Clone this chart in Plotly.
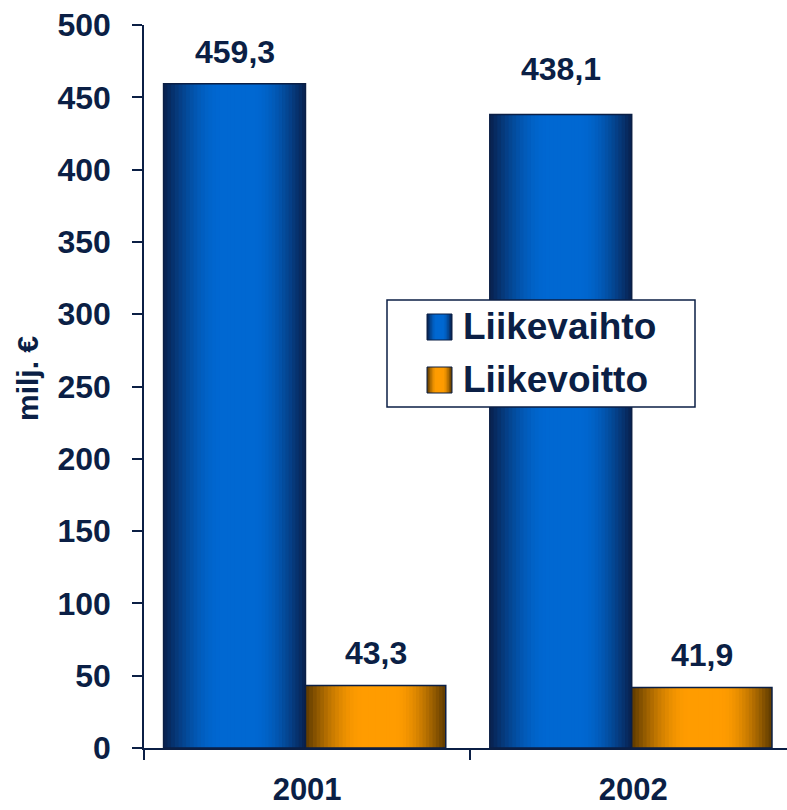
import math
import plotly.graph_objects as go

# ---------------- data ----------------
categories = ["2001", "2002"]
liikevaihto = [459.3, 438.1]
liikevoitto = [43.3, 41.9]
series_names = ["Liikevaihto", "Liikevoitto"]
y_ticks = [0, 50, 100, 150, 200, 250, 300, 350, 400, 450, 500]

# ---------------- style ----------------
NAVY = "#0b1f45"
FONT = "Liberation Sans, Arial, sans-serif"
W, H = 787, 810
ML, MR, MT, MB = 144, 0, 25, 62
PW, PH = W - ML - MR, H - MT - MB

series_style = [
    dict(name=series_names[0], values=liikevaihto, offset=-0.44, width=0.435,
         edge=(8, 36, 84), center=(0, 104, 210)),
    dict(name=series_names[1], values=liikevoitto, offset=-0.005, width=0.43,
         edge=(100, 62, 0), center=(255, 156, 0)),
]
label_nudge = {("Liikevaihto", "2002"): 14}
N_LAYERS = 20


def mix(c1, c2, t):
    return "rgb(%d,%d,%d)" % tuple(round(a + (b - a) * t) for a, b in zip(c1, c2))


def shade(i, n):
    u = i / (n - 1)
    return math.sin(min(1.0, u / 0.8) * math.pi / 2)


def px2x(px):
    return (px - ML) / PW


def py2y(py):
    return (MT + PH - py) / PH


fig = go.Figure()

for s in series_style:
    for i in range(N_LAYERS):
        frac = 1 - i / N_LAYERS
        w = s["width"] * frac
        off = s["offset"] + (s["width"] - w) / 2 + 0.012 * (i / N_LAYERS)
        fig.add_bar(
            x=categories, y=s["values"],
            width=[w] * len(categories), offset=[off] * len(categories),
            marker=dict(color=mix(s["edge"], s["center"], shade(i, N_LAYERS)), line=dict(width=0)),
            showlegend=False, hoverinfo="skip",
        )
    fig.add_bar(
        x=categories, y=s["values"], name=s["name"],
        width=[s["width"]] * len(categories), offset=[s["offset"]] * len(categories),
        marker=dict(color="rgba(0,0,0,0)", line=dict(color=NAVY, width=1.5)),
        showlegend=False,
    )

annotations = []
for s in series_style:
    for ci, (cat, v) in enumerate(zip(categories, s["values"])):
        annotations.append(dict(
            x=ci + s["offset"] + s["width"] / 2, y=v, xref="x", yref="y",
            text=f"{v:.1f}".replace(".", ","), showarrow=False,
            xanchor="center", yanchor="bottom",
            yshift=12 + label_nudge.get((s["name"], cat), 0),
            font=dict(family=FONT, size=32, color=NAVY, weight="bold"),
        ))

# y axis title
annotations.append(dict(
    x=px2x(27), y=py2y(379), xref="paper", yref="paper", text="milj. €",
    textangle=-90, showarrow=False, xanchor="center", yanchor="middle",
    font=dict(family=FONT, size=30, color=NAVY, weight="bold"),
))

# manual legend
shapes = [dict(type="rect", xref="paper", yref="paper",
               x0=px2x(387), x1=px2x(695), y0=py2y(407), y1=py2y(300),
               fillcolor="white", line=dict(color=NAVY, width=1.5))]
legend_rows = [(314, 340, 326), (367, 393, 379)]
for s, (top, bot, mid) in zip(series_style, legend_rows):
    x0, x1 = 427, 452
    n = 8
    for i in range(n):
        frac = 1 - i / n
        half = (x1 - x0) * frac / 2
        c = (x0 + x1) / 2
        shapes.append(dict(type="rect", xref="paper", yref="paper",
                           x0=px2x(c - half), x1=px2x(c + half), y0=py2y(bot), y1=py2y(top),
                           fillcolor=mix(s["edge"], s["center"], shade(i, n)), line=dict(width=0)))
    shapes.append(dict(type="rect", xref="paper", yref="paper",
                       x0=px2x(x0), x1=px2x(x1), y0=py2y(bot), y1=py2y(top),
                       fillcolor="rgba(0,0,0,0)", line=dict(color=NAVY, width=1)))
    annotations.append(dict(
        x=px2x(461), y=py2y(mid), xref="paper", yref="paper", text=s["name"],
        showarrow=False, xanchor="left", yanchor="middle",
        font=dict(family=FONT, size=37, color=NAVY, weight="bold"),
    ))

fig.update_layout(
    width=W, height=H,
    margin=dict(l=ML, r=MR, t=MT, b=MB, pad=0, autoexpand=False),
    barmode="overlay",
    plot_bgcolor="white", paper_bgcolor="white",
    showlegend=False,
    annotations=annotations, shapes=shapes,
    font=dict(family=FONT, color=NAVY),
    xaxis=dict(
        type="category", range=[-0.5, 1.471], automargin=False,
        showline=True, linecolor=NAVY, linewidth=1.5,
        ticks="outside", ticklen=10, tickwidth=1.5, tickcolor=NAVY,
        tickson="boundaries", showgrid=False, zeroline=False,
        tickfont=dict(family=FONT, size=31, color=NAVY, weight="bold"),
        ticklabelstandoff=13,
    ),
    yaxis=dict(
        range=[0, 500], tickvals=y_ticks, automargin=False,
        showline=True, linecolor=NAVY, linewidth=1.5,
        ticks="outside", ticklen=10, tickwidth=1.5, tickcolor=NAVY,
        showgrid=False, zeroline=False,
        tickfont=dict(family=FONT, size=32, color=NAVY, weight="bold"),
        ticklabelstandoff=15,
    ),
)

fig.write_html(
    "out.html",
    config={"displayModeBar": False},
    post_script="document.body.style.margin='0';document.body.style.overflow='hidden';",
)
